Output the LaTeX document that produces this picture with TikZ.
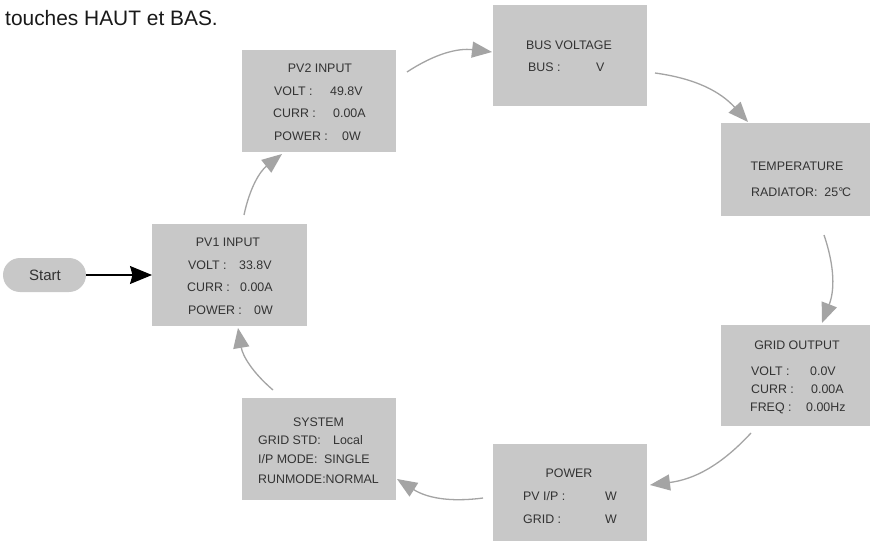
\documentclass[tikz,border=0pt]{standalone}
\usepackage{fontspec}
\setmainfont{Liberation Sans}
\usetikzlibrary{calc,arrows.meta}
\definecolor{panelgray}{HTML}{C8C8C8}
\definecolor{flowgray}{HTML}{A4A4A4}
\definecolor{ink}{HTML}{333333}
\begin{document}
\begin{tikzpicture}[x=1pt,y=-1pt,
  screen/.style={fill=panelgray,draw=none,inner sep=0pt,outer sep=0pt},
  txt/.style={inner sep=0pt,anchor=base west,text=ink,font=\fontsize{12.4}{15}\selectfont},
  ctxt/.style={txt,anchor=base},
  flow/.style={draw=flowgray,line width=1.3pt,-{Triangle[length=20pt,width=16pt]},bend left=20},
  startflow/.style={draw=black,line width=1.2pt,-{Stealth[length=22pt,width=18pt,inset=2.5pt]}}]
\fill[white] (0,0) rectangle (874,545);
\useasboundingbox (0,0) rectangle (874,545);

% heading line
\node[anchor=base west,inner sep=0pt,font=\fontsize{20.9}{25}\selectfont,text=black!90] (heading) at (5,26) {touches HAUT et BAS.};

% display screens
\node[screen,minimum width=83pt,minimum height=34pt,rounded corners=17pt] (start) at (44.5,275) {};
\node[txt,anchor=base,font=\fontsize{15}{18}\selectfont] (startlbl) at (45,280.5) {Start};

\node[screen,minimum width=155pt,minimum height=102pt] (pv1) at (229.5,275) {};
\node[screen,minimum width=154pt,minimum height=102pt] (pv2) at (319,101) {};
\node[screen,minimum width=154pt,minimum height=101pt] (bus) at (570,55.5) {};
\node[screen,minimum width=149pt,minimum height=93pt] (temp) at (795.5,169.5) {};
\node[screen,minimum width=149pt,minimum height=101pt] (grid) at (795.5,375.5) {};
\node[screen,minimum width=154pt,minimum height=97pt] (power) at (570,492.5) {};
\node[screen,minimum width=154pt,minimum height=102pt] (system) at (319,449) {};

% PV1 INPUT
\node[ctxt] (pv1h) at (228,246.5) {PV1 INPUT};
\node[txt] (pv1a) at (188,269.5) {VOLT :};
\node[txt] (pv1av) at (239,269.5) {33.8V};
\node[txt] (pv1b) at (187,291.5) {CURR :};
\node[txt] (pv1bv) at (240,291.5) {0.00A};
\node[txt] (pv1c) at (188,314.5) {POWER :};
\node[txt] (pv1cv) at (254,314.5) {0W};

% PV2 INPUT
\node[ctxt] (pv2h) at (320,72.5) {PV2 INPUT};
\node[txt] (pv2a) at (274,95.5) {VOLT :};
\node[txt] (pv2av) at (330,95.5) {49.8V};
\node[txt] (pv2b) at (273,117.5) {CURR :};
\node[txt] (pv2bv) at (333,117.5) {0.00A};
\node[txt] (pv2c) at (274,140.5) {POWER :};
\node[txt] (pv2cv) at (342,140.5) {0W};

% BUS VOLTAGE
\node[ctxt] (bush) at (569,49.5) {BUS VOLTAGE};
\node[txt] (busa) at (528,71.5) {BUS :};
\node[txt] (busav) at (596,71.5) {V};

% TEMPERATURE
\node[ctxt] (temph) at (797,170.5) {TEMPERATURE};
\node[txt] (tempa) at (751,196.5) {RADIATOR:\ \ 25°\kern-1.2pt C};

% GRID OUTPUT
\node[ctxt] (gridh) at (797,349.5) {GRID OUTPUT};
\node[txt] (grida) at (751,375) {VOLT :};
\node[txt] (gridav) at (810,375) {0.0V};
\node[txt] (gridb) at (751,393.5) {CURR :};
\node[txt] (gridbv) at (811,393.5) {0.00A};
\node[txt] (gridc) at (750,411.5) {FREQ :};
\node[txt] (gridcv) at (806,411.5) {0.00Hz};

% POWER
\node[ctxt] (powerh) at (569,477) {POWER};
\node[txt] (powera) at (523,500.5) {PV I/P :};
\node[txt] (powerav) at (605,500.5) {W};
\node[txt] (powerb) at (523,523.5) {GRID :};
\node[txt] (powerbv) at (605,523.5) {W};

% SYSTEM
\node[ctxt] (systemh) at (318.5,426.5) {SYSTEM};
\node[txt] (systema) at (258,444.5) {GRID STD:};
\node[txt] (systemav) at (333,444.5) {Local};
\node[txt] (systemb) at (258,463.5) {I/P MODE:};
\node[txt] (systembv) at (324,463.5) {SINGLE};
\node[txt] (systemc) at (258,483.5) {RUNMODE:NORMAL};

% connectors
\draw[startflow] (start.east) -- (pv1.west);
\draw[flow] ($(pv1.north)+(14.5,-9)$) to ($(pv2.south)+(-37,2)$);
\draw[flow] ($(pv2.east)+(11,-29)$) to ($(bus.west)+(-1,-3.5)$);
\draw[flow] ($(bus.east)+(8,17.5)$) to ($(temp.north)+(-47.5,-1)$);
\draw[flow] ($(temp.south)+(28.5,19)$) to ($(grid.north)+(26.5,-2)$);
\draw[flow] ($(grid.south)+(-44.5,7)$) to ($(power.east)+(3,-7.5)$);
\draw[flow] ($(power.west)+(-10,5.5)$) to ($(system.east)+(1,30)$);
\draw[flow] ($(system.north)+(-46,-8)$) to ($(pv1.south)+(8.5,2)$);
\end{tikzpicture}
\end{document}
